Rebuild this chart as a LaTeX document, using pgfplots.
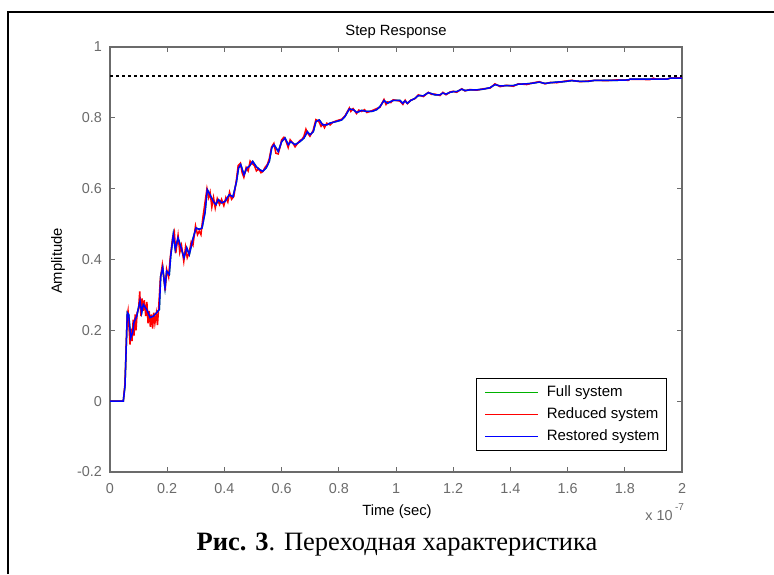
\documentclass[border=0pt]{standalone}
\usepackage{pgfplots}
\pgfplotsset{compat=1.18}
\usepackage{fontspec}
\setmainfont{Liberation Serif}
\newfontfamily\arial{Liberation Sans}
\definecolor{mgray}{gray}{0.42}
\definecolor{mgreen}{rgb}{0,0.7,0}
\begin{document}
\begin{tikzpicture}
\useasboundingbox (0,0) rectangle (387pt,287pt);
\draw[line width=0.6pt] (4pt,0) -- (4pt,281pt) -- (387pt,281pt);
\begin{axis}[
  at={(55pt,51pt)}, anchor=south west,
  scale only axis, width=286pt, height=212.5pt,
  xmin=0, xmax=2, ymin=-0.2, ymax=1,
  xtick={0,0.2,0.4,0.6,0.8,1,1.2,1.4,1.6,1.8,2},
  xticklabels={0,0.2,0.4,0.6,0.8,1,1.2,1.4,1.6,1.8,2},
  ytick={-0.2,0,0.2,0.4,0.6,0.8,1},
  yticklabels={-0.2,0,0.2,0.4,0.6,0.8,1},
  tick align=inside, major tick length=2.5pt,
  axis line style={draw=mgray, line width=0.6pt},
  every tick/.style={draw=mgray, line width=0.5pt},
  ticklabel style={font=\arial\fontsize{7.2}{8.5}\selectfont, text=mgray},
  xticklabel style={yshift=-2.2pt},
  yticklabel style={xshift=-0.5pt},
  legend style={at={(0.974,0.049)}, anchor=south east, draw=black, line width=0.6pt,
    font=\arial\fontsize{7.5}{9}\selectfont, row sep=0.8pt, inner sep=2pt,
    nodes={inner sep=1.6pt}},
  legend cell align=left,
  legend image code/.code={\path[draw=none] (0pt,0pt) -- (31.5pt,0pt);\draw[#1, line width=0.45pt] (2.4pt,0pt) -- (28.9pt,0pt);},
]
\addplot[mgreen, line width=0.75pt] coordinates {
(0,0) (0.0465,0) (0.0524,0.043) (0.0605,0.250) (0.0654,0.245) (0.0724,0.179) (0.0794,0.194) (0.0839,0.223) (0.0934,0.240) (0.1049,0.283) (0.1108,0.250) (0.1164,0.273) (0.1283,0.259) (0.1399,0.236) (0.1514,0.240) (0.1633,0.250) (0.1724,0.259) (0.1773,0.353) (0.1843,0.377) (0.1923,0.320) (0.1983,0.367) (0.2073,0.358) (0.2122,0.409) (0.2213,0.470) (0.2283,0.428) (0.2378,0.461) (0.2472,0.437) (0.2587,0.405) (0.2682,0.433) (0.2773,0.414) (0.2892,0.456) (0.3007,0.489) (0.3122,0.485) (0.3217,0.489) (0.3322,0.532) (0.3402,0.597) (0.3497,0.583) (0.3612,0.564) (0.3706,0.555) (0.3787,0.569) (0.3906,0.560) (0.4021,0.564) (0.4171,0.583) (0.4300,0.577) (0.4423,0.620) (0.4493,0.658) (0.4570,0.668) (0.4685,0.639) (0.4780,0.658) (0.4871,0.663) (0.4990,0.677) (0.5105,0.663) (0.5220,0.654) (0.5339,0.649) (0.5455,0.658) (0.5570,0.677) (0.5654,0.715) (0.5734,0.724) (0.5885,0.705) (0.6003,0.733) (0.6119,0.743) (0.6234,0.724) (0.6318,0.733) (0.6469,0.724) (0.6643,0.733) (0.6783,0.743) (0.6899,0.761) (0.6993,0.752) (0.7108,0.761) (0.7203,0.790) (0.7318,0.794) (0.7437,0.780) (0.7577,0.780) (0.7692,0.785) (0.7927,0.790) (0.8101,0.794) (0.8217,0.804) (0.8367,0.825) (0.8507,0.823) (0.8626,0.815) (0.8801,0.821) (0.8976,0.818) (0.9150,0.818) (0.9325,0.823) (0.9441,0.832) (0.9580,0.849) (0.9696,0.841) (0.9815,0.846) (0.9906,0.849) (1.0140,0.849) (1.0234,0.841) (1.0315,0.848) (1.0395,0.841) (1.0514,0.849) (1.0664,0.855) (1.0780,0.863) (1.0955,0.862) (1.1129,0.871) (1.1248,0.868) (1.1364,0.865) (1.1538,0.865) (1.1633,0.870) (1.1748,0.867) (1.1888,0.872) (1.2003,0.874) (1.2122,0.874) (1.2297,0.881) (1.2413,0.877) (1.2587,0.879) (1.2822,0.879) (1.3052,0.881) (1.3287,0.885) (1.3462,0.894) (1.3636,0.890) (1.3871,0.891) (1.4101,0.891) (1.4276,0.895) (1.4570,0.896) (1.4801,0.898) (1.5010,0.901) (1.5210,0.897) (1.5385,0.899) (1.5619,0.901) (1.5850,0.902) (1.6143,0.905) (1.6434,0.903) (1.6724,0.903) (1.6958,0.906) (1.7367,0.906) (1.7717,0.906) (1.8122,0.907) (1.8182,0.909) (1.8881,0.909) (1.9465,0.909) (1.9580,0.912) (2.0,0.912)
};
\addlegendentry{Full system}
\addplot[red, line width=0.75pt] coordinates {
(0,0) (0.0465,0) (0.0524,0.05) (0.0600,0.240) (0.0630,0.255) (0.0660,0.215) (0.0700,0.160) (0.0740,0.205) (0.0770,0.170) (0.0810,0.230) (0.0840,0.185) (0.0880,0.245) (0.0910,0.200) (0.0950,0.250) (0.1000,0.262) (0.1040,0.310) (0.1080,0.240) (0.1120,0.290) (0.1160,0.255) (0.1200,0.285) (0.1250,0.240) (0.1290,0.280) (0.1330,0.220) (0.1370,0.255) (0.1410,0.210) (0.1450,0.245) (0.1490,0.205) (0.1530,0.250) (0.1570,0.220) (0.1620,0.248) (0.1660,0.215) (0.1700,0.262) (0.1760,0.345) (0.1830,0.385) (0.1880,0.350) (0.1930,0.312) (0.1980,0.372) (0.2050,0.350) (0.2100,0.400) (0.2190,0.462) (0.2250,0.478) (0.2300,0.418) (0.2380,0.468) (0.2440,0.420) (0.2500,0.440) (0.2580,0.395) (0.2640,0.435) (0.2700,0.405) (0.2770,0.420) (0.2840,0.450) (0.2900,0.440) (0.2990,0.495) (0.3060,0.470) (0.3120,0.480) (0.3180,0.470) (0.3250,0.520) (0.3320,0.560) (0.3390,0.600) (0.3450,0.575) (0.3500,0.590) (0.3560,0.548) (0.3620,0.575) (0.3680,0.545) (0.3750,0.572) (0.3830,0.555) (0.3900,0.570) (0.3980,0.552) (0.4050,0.575) (0.4120,0.562) (0.4180,0.590) (0.4250,0.570) (0.4330,0.578) (0.4420,0.625) (0.4480,0.665) (0.4560,0.672) (0.4620,0.645) (0.4680,0.632) (0.4760,0.660) (0.4830,0.650) (0.4900,0.678) (0.4980,0.670) (0.5050,0.665) (0.5120,0.650) (0.5200,0.656) (0.5280,0.645) (0.5340,0.648) (0.5420,0.660) (0.5500,0.668) (0.5570,0.685) (0.5650,0.718) (0.5730,0.728) (0.5800,0.700) (0.5880,0.698) (0.5960,0.722) (0.6000,0.738) (0.6080,0.745) (0.6150,0.735) (0.6230,0.716) (0.6300,0.738) (0.6400,0.728) (0.6470,0.718) (0.6560,0.728) (0.6640,0.736) (0.6720,0.740) (0.6780,0.748) (0.6850,0.768) (0.6900,0.758) (0.6990,0.748) (0.7100,0.764) (0.7200,0.795) (0.7300,0.790) (0.7380,0.776) (0.7440,0.782) (0.7500,0.772) (0.7580,0.785) (0.7700,0.780) (0.7800,0.788) (0.7930,0.792) (0.8100,0.796) (0.8220,0.806) (0.8370,0.828) (0.8420,0.818) (0.8500,0.826) (0.8620,0.812) (0.8700,0.822) (0.8800,0.818) (0.8900,0.823) (0.8980,0.815) (0.9150,0.820) (0.9320,0.826) (0.9440,0.830) (0.9580,0.852) (0.9650,0.838) (0.9700,0.845) (0.9820,0.843) (0.9900,0.851) (1.0140,0.847) (1.0240,0.838) (1.0320,0.850) (1.0400,0.840) (1.0520,0.850) (1.0660,0.854) (1.0780,0.865) (1.0960,0.860) (1.1130,0.872) (1.1250,0.866) (1.1360,0.867) (1.1540,0.863) (1.1640,0.872) (1.1750,0.865) (1.1890,0.873) (1.2000,0.875) (1.2120,0.872) (1.2300,0.882) (1.2410,0.876) (1.2590,0.880) (1.2820,0.878) (1.3050,0.882) (1.3290,0.884) (1.3460,0.896) (1.3640,0.888) (1.3870,0.892) (1.4100,0.889) (1.4280,0.896) (1.4570,0.894) (1.4800,0.899) (1.5010,0.902) (1.5210,0.896) (1.5390,0.900) (1.5620,0.899) (1.5850,0.903) (1.6140,0.906) (1.6430,0.902) (1.6720,0.904) (1.6960,0.906) (1.7370,0.905) (1.7720,0.907) (1.8120,0.906) (1.8180,0.909) (1.8880,0.908) (1.9000,0.912) (1.9100,0.909) (1.9470,0.909) (1.9580,0.912) (2.0000,0.913)
};
\addlegendentry{Reduced system}
\addplot[blue, line width=0.75pt] coordinates {
(0,0) (0.0465,0) (0.0524,0.043) (0.0605,0.250) (0.0654,0.245) (0.0724,0.179) (0.0794,0.194) (0.0839,0.223) (0.0934,0.240) (0.1049,0.283) (0.1108,0.250) (0.1164,0.273) (0.1283,0.259) (0.1399,0.236) (0.1514,0.240) (0.1633,0.250) (0.1724,0.259) (0.1773,0.353) (0.1843,0.377) (0.1923,0.320) (0.1983,0.367) (0.2073,0.358) (0.2122,0.409) (0.2213,0.470) (0.2283,0.428) (0.2378,0.461) (0.2472,0.437) (0.2587,0.405) (0.2682,0.433) (0.2773,0.414) (0.2892,0.456) (0.3007,0.489) (0.3122,0.485) (0.3217,0.489) (0.3322,0.532) (0.3402,0.597) (0.3497,0.583) (0.3612,0.564) (0.3706,0.555) (0.3787,0.569) (0.3906,0.560) (0.4021,0.564) (0.4171,0.583) (0.4300,0.577) (0.4423,0.620) (0.4493,0.658) (0.4570,0.668) (0.4685,0.639) (0.4780,0.658) (0.4871,0.663) (0.4990,0.677) (0.5105,0.663) (0.5220,0.654) (0.5339,0.649) (0.5455,0.658) (0.5570,0.677) (0.5654,0.715) (0.5734,0.724) (0.5885,0.705) (0.6003,0.733) (0.6119,0.743) (0.6234,0.724) (0.6318,0.733) (0.6469,0.724) (0.6643,0.733) (0.6783,0.743) (0.6899,0.761) (0.6993,0.752) (0.7108,0.761) (0.7203,0.790) (0.7318,0.794) (0.7437,0.780) (0.7577,0.780) (0.7692,0.785) (0.7927,0.790) (0.8101,0.794) (0.8217,0.804) (0.8367,0.825) (0.8507,0.823) (0.8626,0.815) (0.8801,0.821) (0.8976,0.818) (0.9150,0.818) (0.9325,0.823) (0.9441,0.832) (0.9580,0.849) (0.9696,0.841) (0.9815,0.846) (0.9906,0.849) (1.0140,0.849) (1.0234,0.841) (1.0315,0.848) (1.0395,0.841) (1.0514,0.849) (1.0664,0.855) (1.0780,0.863) (1.0955,0.862) (1.1129,0.871) (1.1248,0.868) (1.1364,0.865) (1.1538,0.865) (1.1633,0.870) (1.1748,0.867) (1.1888,0.872) (1.2003,0.874) (1.2122,0.874) (1.2297,0.881) (1.2413,0.877) (1.2587,0.879) (1.2822,0.879) (1.3052,0.881) (1.3287,0.885) (1.3462,0.894) (1.3636,0.890) (1.3871,0.891) (1.4101,0.891) (1.4276,0.895) (1.4570,0.896) (1.4801,0.898) (1.5010,0.901) (1.5210,0.897) (1.5385,0.899) (1.5619,0.901) (1.5850,0.902) (1.6143,0.905) (1.6434,0.903) (1.6724,0.903) (1.6958,0.906) (1.7367,0.906) (1.7717,0.906) (1.8122,0.907) (1.8182,0.909) (1.8881,0.909) (1.9465,0.909) (1.9580,0.912) (2.0,0.912)
};
\addlegendentry{Restored system}
\addplot[black, line width=0.6pt, dash pattern=on 1.5pt off 1.5pt, forget plot] coordinates {(0,0.918) (2,0.918)};
\end{axis}
\node[anchor=base, font=\arial\fontsize{7.4}{9}\selectfont] at (198pt,269pt) {Step Response};
\node[anchor=base, font=\arial\fontsize{7.4}{9}\selectfont] at (198.5pt,29.5pt) {Time (sec)};
\node[rotate=90, font=\arial\fontsize{7.4}{9}\selectfont] at (29pt,156.5pt) {Amplitude};
\node[anchor=base east, inner sep=0pt, text=mgray, font=\arial\fontsize{7.2}{8.5}\selectfont] at (336.5pt,27pt) {x 10};
\node[anchor=base west, inner sep=0pt, text=mgray, font=\arial\fontsize{5}{6}\selectfont] at (337.3pt,32pt) {-7};
\node[anchor=base, font=\fontsize{13.25}{15}\selectfont] at (198.5pt,11.6pt) {\textbf{Рис. 3}. Переходная характеристика};
\end{tikzpicture}
\end{document}
